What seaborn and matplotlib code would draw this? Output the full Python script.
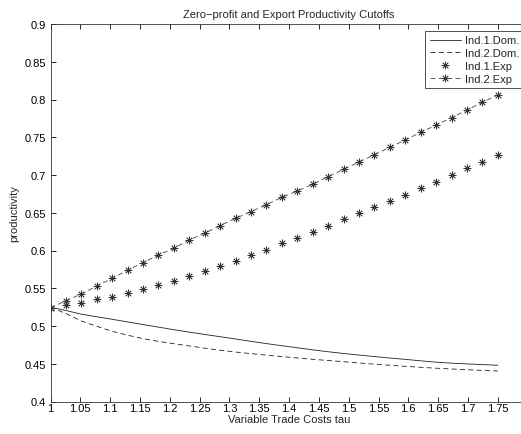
import numpy as np
import pandas as pd
import matplotlib
matplotlib.use("Agg")
import matplotlib.pyplot as plt
import seaborn as sns

# Variable trade costs (30 evenly spaced values from 1 to 1.75)
tau = np.linspace(1.0, 1.75, 30)

# Zero-profit (domestic) productivity cutoffs
ind1_dom = [0.5248, 0.5205, 0.5157, 0.5122, 0.5089, 0.5054, 0.5019, 0.4985,
            0.4951, 0.4919, 0.4888, 0.4858, 0.4828, 0.4797, 0.4767, 0.4739,
            0.4712, 0.4684, 0.4659, 0.4636, 0.4615, 0.4595, 0.4576, 0.4558,
            0.4539, 0.4521, 0.4508, 0.4498, 0.4489, 0.4480]
ind2_dom = [0.5248, 0.5165, 0.5066, 0.4996, 0.4930, 0.4878, 0.4833, 0.4796,
            0.4765, 0.4736, 0.4706, 0.4679, 0.4655, 0.4634, 0.4614, 0.4595,
            0.4577, 0.4559, 0.4543, 0.4527, 0.4511, 0.4494, 0.4480, 0.4466,
            0.4453, 0.4441, 0.4431, 0.4421, 0.4412, 0.4404]

# Export productivity cutoffs
ind1_exp = [0.524, 0.528, 0.5305, 0.5358, 0.539, 0.5433, 0.549, 0.554,
            0.560, 0.566, 0.573, 0.5795, 0.5865, 0.594, 0.601, 0.6095,
            0.617, 0.6245, 0.633, 0.6413, 0.6493, 0.6576, 0.666, 0.6735,
            0.6824, 0.6911, 0.6996, 0.7089, 0.7176, 0.7269]
ind2_exp = [0.524, 0.5335, 0.5424, 0.553, 0.563, 0.574, 0.584, 0.594,
            0.603, 0.614, 0.623, 0.633, 0.6426, 0.6514, 0.6607, 0.6705,
            0.6788, 0.6877, 0.6978, 0.7075, 0.7172, 0.7269, 0.7367, 0.7464,
            0.7565, 0.7662, 0.7759, 0.7861, 0.7963, 0.806]

series_names = ["Ind.1.Dom.", "Ind.2.Dom.", "Ind.1.Exp", "Ind.2.Exp"]

x_ticks = np.round(np.arange(1.0, 1.7501, 0.05), 2)
y_ticks = np.round(np.arange(0.4, 0.9001, 0.05), 2)

sns.set_theme(style="ticks")
plt.rcParams["font.family"] = ["Liberation Sans", "DejaVu Sans"]
plt.rcParams["axes.linewidth"] = 0.6

df = pd.DataFrame({"tau": tau, series_names[0]: ind1_dom,
                   series_names[1]: ind2_dom, series_names[2]: ind1_exp,
                   series_names[3]: ind2_exp})

W, H = 521, 435
fig = plt.figure(figsize=(W / 100, H / 100), dpi=100)
fig.patch.set_facecolor("white")
left_px, right_px, top_px, bottom_px = 50.5, 527.6, 25.0, 402.5
ax = fig.add_axes([left_px / W, 1 - bottom_px / H,
                   (right_px - left_px) / W, (bottom_px - top_px) / H])

asterisk = (8, 2, 0)
marker_kw = dict(marker=asterisk, markersize=5.5, markeredgewidth=0.55,
                 markeredgecolor="#333333", markerfacecolor="none")
sns.lineplot(data=df, x="tau", y=series_names[0], ax=ax, color="#222222",
             linewidth=0.6, label=series_names[0])
sns.lineplot(data=df, x="tau", y=series_names[1], ax=ax, color="#222222",
             linewidth=0.6, linestyle=(0, (6, 4)), label=series_names[1])
sns.lineplot(data=df, x="tau", y=series_names[2], ax=ax, color="#333333",
             linestyle="none", label=series_names[2], **marker_kw)
sns.lineplot(data=df, x="tau", y=series_names[3], ax=ax, color="#444444",
             linewidth=0.6, linestyle=(0, (6, 4)), label=series_names[3],
             **marker_kw)

ax.set_xlim(1.0, 1.8)
ax.set_ylim(0.4, 0.9)
ax.set_xticks(x_ticks)
ax.set_xticklabels([f"{v:g}" for v in x_ticks])
ax.set_yticks(y_ticks)
ax.set_yticklabels([f"{v:g}" for v in y_ticks])
ax.tick_params(direction="in", top=True, right=True, length=3.5,
               width=0.6, labelsize=8, pad=3, colors="black")
ax.tick_params(axis="x", pad=1)
for sp in ax.spines.values():
    sp.set_visible(True)
    sp.set_color("#333333")

ax.set_xlabel("Variable Trade Costs tau", fontsize=8, labelpad=1)
ax.set_ylabel("productivity", fontsize=8, labelpad=4)
ax.set_title("Zero\u2212profit and Export Productivity Cutoffs", fontsize=8, pad=5)

leg = ax.legend(loc="upper right", bbox_to_anchor=(524 / W, 1 - 32 / H),
                bbox_transform=fig.transFigure, borderaxespad=0,
                fontsize=8, frameon=True, fancybox=False, framealpha=1,
                edgecolor="#333333", handlelength=2.8, handletextpad=0.4,
                borderpad=0.4, labelspacing=0.25)
leg.get_frame().set_linewidth(0.6)

fig.savefig("out.png", dpi=100, facecolor="white")
